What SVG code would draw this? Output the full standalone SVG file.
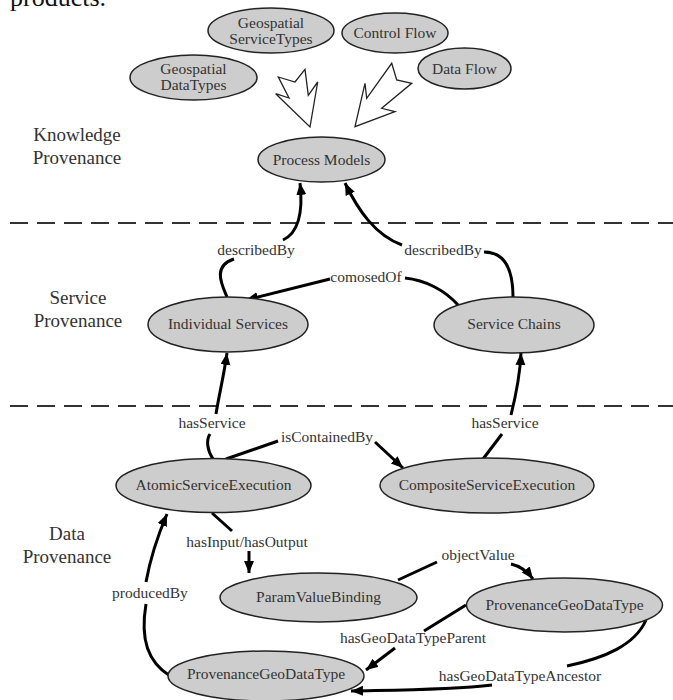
<svg xmlns="http://www.w3.org/2000/svg" width="673" height="700" viewBox="0 0 673 700">
<style>
.node ellipse{fill:#cdcdcd;stroke:#222;stroke-width:1.5}
.node text{font-family:"Liberation Serif",serif;font-size:15.5px;fill:#333;text-anchor:middle}
.region{font-family:"Liberation Serif",serif;font-size:19px;fill:#333;text-anchor:middle}
.elabel{font-family:"Liberation Serif",serif;font-size:15.5px;fill:#333;text-anchor:middle}
.edge{fill:none;stroke:#000;stroke-width:3}
.dash{stroke:#333;stroke-width:2;stroke-dasharray:18 9}
.hollow{fill:#fff;stroke:#222;stroke-width:1.3;stroke-linejoin:miter}
</style>
<defs>
<marker id="ah" markerUnits="userSpaceOnUse" markerWidth="14" markerHeight="12" refX="12" refY="5" orient="auto">
<path d="M0,0 L12,5 L0,10 z" fill="#000"/>
</marker>
</defs>
<rect width="673" height="700" fill="#fff"/>
<text x="10" y="6" style="font-family:'Liberation Serif',serif;font-size:26px;fill:#111">products.</text>

<line class="dash" x1="10" y1="223" x2="673" y2="223"/>
<line class="dash" x1="10" y1="406" x2="673" y2="406"/>

<text class="region" x="77" y="141">Knowledge</text>
<text class="region" x="77" y="164">Provenance</text>
<text class="region" x="78" y="304">Service</text>
<text class="region" x="78" y="327">Provenance</text>
<text class="region" x="67" y="540">Data</text>
<text class="region" x="67" y="563">Provenance</text>

<g id="hollow-arrows">
<polygon class="hollow" points="278.3,77 295,82 305,69.3 308.3,95.3 317.7,82 310,127 275.7,93.7 289,98"/>
<polygon class="hollow" points="391.7,63.3 396.7,80 411.7,83.3 381.7,108.3 395,111.7 355,126.7 365,83.3 366.7,98.3"/>
</g>

<g id="connectors">
<path class="edge" d="M227,297 C222,285 212,266 234,259"/>
<path class="edge" marker-end="url(#ah)" d="M283,240 C300,232 303,210 300,183"/>
<path class="edge" d="M513,297 C513,270 505,252 484,252"/>
<path class="edge" marker-end="url(#ah)" d="M402,245 C375,235 358,210 345,183"/>
<path class="edge" d="M459,306 C445,290 425,280 405,278"/>
<path class="edge" marker-end="url(#ah)" d="M330,279 L246,300"/>
<path class="edge" d="M213,459 C207,450 206,440 210,434"/>
<path class="edge" marker-end="url(#ah)" d="M216,414 C219,395 224,375 227,353"/>
<path class="edge" d="M483,459 L502,434"/>
<path class="edge" marker-end="url(#ah)" d="M511,415 C516,395 520,375 521,353"/>
<path class="edge" d="M226,459 L278,441"/>
<path class="edge" marker-end="url(#ah)" d="M375,442 L403,468"/>
<path class="edge" d="M212,513 L232,531"/>
<path class="edge" marker-end="url(#ah)" d="M249,551 L249,573"/>
<path class="edge" d="M398,580 L437,562"/>
<path class="edge" marker-end="url(#ah)" d="M511,564 C520,566 527,571 533,579"/>
<path class="edge" d="M466,605 L424,631"/>
<path class="edge" marker-end="url(#ah)" d="M395,648 L366,670"/>
<path class="edge" d="M646,620 C635,645 605,658 567,666"/>
<path class="edge" marker-end="url(#ah)" d="M492,685 C450,690 400,690 351,691"/>
<path class="edge" d="M170,676 C148,662 140,640 146,604"/>
<path class="edge" marker-end="url(#ah)" d="M146,582 C150,560 158,535 167,514"/>
</g>

<g id="edge-labels">
<text class="elabel" x="256" y="255">describedBy</text>
<text class="elabel" x="443" y="255">describedBy</text>
<text class="elabel" x="366" y="282">comosedOf</text>
<text class="elabel" x="212" y="428">hasService</text>
<text class="elabel" x="505" y="428">hasService</text>
<text class="elabel" x="327" y="442">isContainedBy</text>
<text class="elabel" x="247" y="547">hasInput/hasOutput</text>
<text class="elabel" x="478" y="560">objectValue</text>
<text class="elabel" x="150" y="598">producedBy</text>
<text class="elabel" x="413" y="643">hasGeoDataTypeParent</text>
<text class="elabel" x="520" y="681">hasGeoDataTypeAncestor</text>
</g>

<g id="geospatial-servicetypes" class="node">
<ellipse cx="271" cy="30.5" rx="63" ry="22.5"/>
<text x="271" y="28">Geospatial</text>
<text x="271" y="44">ServiceTypes</text>
</g>
<g id="control-flow" class="node">
<ellipse cx="395" cy="33" rx="53" ry="20"/>
<text x="395" y="38">Control Flow</text>
</g>
<g id="geospatial-datatypes" class="node">
<ellipse cx="193.5" cy="77.5" rx="63.5" ry="22.5"/>
<text x="193.5" y="74">Geospatial</text>
<text x="193.5" y="90">DataTypes</text>
</g>
<g id="data-flow" class="node">
<ellipse cx="464.5" cy="68.5" rx="46.5" ry="20.5"/>
<text x="464.5" y="74">Data Flow</text>
</g>
<g id="process-models" class="node">
<ellipse cx="321.5" cy="159.5" rx="63.5" ry="22.5"/>
<text x="321.5" y="165">Process Models</text>
</g>
<g id="individual-services" class="node">
<ellipse cx="228" cy="324.5" rx="80" ry="27.5"/>
<text x="228" y="329">Individual Services</text>
</g>
<g id="service-chains" class="node">
<ellipse cx="514" cy="325" rx="80" ry="28"/>
<text x="514" y="329">Service Chains</text>
</g>
<g id="atomic-service-execution" class="node">
<ellipse cx="213.5" cy="485.5" rx="97.5" ry="27"/>
<text x="213.5" y="490">AtomicServiceExecution</text>
</g>
<g id="composite-service-execution" class="node">
<ellipse cx="487" cy="485.5" rx="107" ry="27.5"/>
<text x="487" y="490">CompositeServiceExecution</text>
</g>
<g id="param-value-binding" class="node">
<ellipse cx="318.5" cy="597.5" rx="98.5" ry="24.5"/>
<text x="318.5" y="602">ParamValueBinding</text>
</g>
<g id="provenance-geodatatype-right" class="node">
<ellipse cx="564.5" cy="605" rx="98" ry="27"/>
<text x="564.5" y="610">ProvenanceGeoDataType</text>
</g>
<g id="provenance-geodatatype-left" class="node">
<ellipse cx="266" cy="676" rx="98" ry="25"/>
<text x="266" y="679">ProvenanceGeoDataType</text>
</g>
</svg>
